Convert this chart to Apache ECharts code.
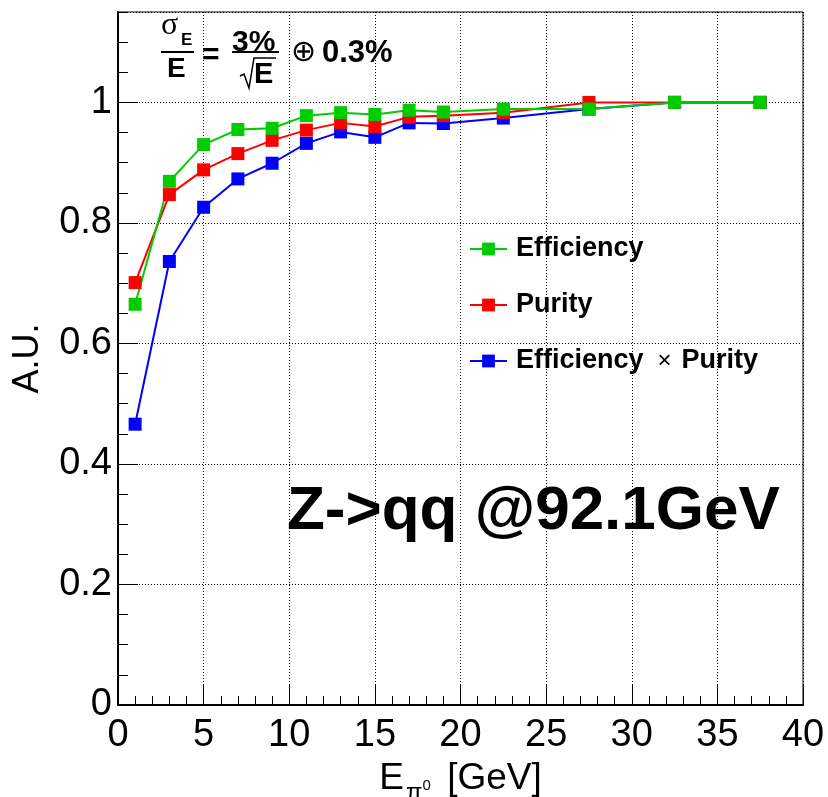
<!DOCTYPE html>
<html>
<head>
<meta charset="utf-8">
<script src="https://cdn.jsdelivr.net/npm/echarts@6/dist/echarts.min.js"></script>
<style>
  html, body { margin: 0; padding: 0; background: #fff; }
  #chart { width: 828px; height: 797px; }
</style>
</head>
<body>
<div id="chart"></div>
<script>
// energy bins (GeV)
var energies = [1, 3, 5, 7, 9, 11, 13, 15, 17, 19, 22.5, 27.5, 32.5, 37.5];
var efficiency = [0.665, 0.869, 0.930, 0.955, 0.957, 0.978, 0.983, 0.980, 0.987, 0.984, 0.989, 0.989, 1.0, 1.0];
var purity = [0.701, 0.847, 0.888, 0.915, 0.937, 0.954, 0.966, 0.960, 0.976, 0.978, 0.983, 1.0, 1.0, 1.0];
var effTimesPur = [0.466, 0.736, 0.826, 0.873, 0.899, 0.932, 0.951, 0.942, 0.966, 0.965, 0.974, 0.989, 1.0, 1.0];
var seriesNames = ['Efficiency', 'Purity', 'Efficiency × Purity'];

var FONT = 'Liberation Sans';

function pairs(ys) {
    return energies.map(function (x, i) { return [x, ys[i]]; });
}

var chart = echarts.init(document.getElementById('chart'));

function lineSeries(name, color, ys) {
    return {
        name: name,
        type: 'line',
        yAxisIndex: 0,
        data: pairs(ys),
        symbol: 'rect',
        symbolSize: 13,
        lineStyle: { color: color, width: 2 },
        itemStyle: { color: color },
        emphasis: { disabled: true },
        animation: false
    };
}

var option = {
    backgroundColor: '#fff',
    grid: {
        left: 118, right: 25, top: 12, bottom: 92,
        outerBoundsMode: 'none',
        containLabel: false,
        show: true, borderColor: '#000', borderWidth: 1
    },
    legend: {
        data: seriesNames,
        orient: 'vertical',
        left: 469,
        top: 234,
        padding: 0,
        itemWidth: 37,
        itemHeight: 16,
        itemGap: 26,
        selectedMode: false,
        textStyle: {
            fontFamily: FONT, fontSize: 27, fontWeight: 'bold', color: '#000',
            lineHeight: 30, padding: [0, 0, 0, 4],
            rich: {
                b: { fontFamily: FONT, fontSize: 27, fontWeight: 'bold', color: '#000' },
                x: { fontFamily: FONT, fontSize: 24, fontWeight: 'normal', color: '#000', padding: [0, 10, 0, 14] }
            }
        },
        formatter: function (name) {
            if (name === 'Efficiency × Purity') {
                return '{b|Efficiency}{x|×}{b|Purity}';
            }
            return name;
        }
    },
    xAxis: {
        type: 'value',
        min: 0, max: 40, interval: 5,
        name: 'E{sub|π}{sup|0} [GeV]',
        nameLocation: 'middle',
        nameGap: 45,
        nameTextStyle: {
            fontFamily: FONT, fontSize: 37, color: '#000',
            rich: {
                sub: { fontFamily: FONT, fontSize: 24, color: '#000', padding: [30, 0, 0, 2] },
                sup: { fontFamily: FONT, fontSize: 15, color: '#000', padding: [14, 6, 0, 0] }
            }
        },
        axisLine: { show: true, onZero: false, lineStyle: { color: '#000', width: 2 } },
        axisTick: { show: true, inside: true, length: 20, lineStyle: { color: '#000', width: 1 } },
        minorTick: { show: true, splitNumber: 5, length: 9, lineStyle: { color: '#000', width: 1 } },
        axisLabel: { fontFamily: FONT, fontSize: 38, color: '#000', margin: 12 },
        splitLine: { show: true, lineStyle: { color: '#000', width: 1, type: [1, 2] } }
    },
    yAxis: [
        {
            type: 'value',
            min: 0, max: 1.15, interval: 0.2,
            name: 'A.U.',
            nameLocation: 'middle',
            nameGap: 72,
            nameTextStyle: { fontFamily: FONT, fontSize: 36, color: '#000' },
            axisLine: { show: true, onZero: false, lineStyle: { color: '#000', width: 2 } },
            axisTick: { show: true, inside: true, length: 20, lineStyle: { color: '#000', width: 1 } },
            axisLabel: { fontFamily: FONT, fontSize: 38, color: '#000', margin: 6, showMaxLabel: false },
            splitLine: { show: true, lineStyle: { color: '#000', width: 1, type: [1, 2] } }
        },
        {
            // minor ticks every 0.05
            type: 'value',
            position: 'left',
            offset: 0,
            min: 0, max: 1.15, interval: 0.05,
            axisLine: { show: false },
            axisTick: { show: true, inside: true, length: 10, lineStyle: { color: '#000', width: 1 } },
            axisLabel: { show: false },
            splitLine: { show: false }
        }
    ],
    series: [
        lineSeries('Efficiency × Purity', '#0000ff', effTimesPur),
        lineSeries('Purity', '#ff0000', purity),
        lineSeries('Efficiency', '#00cc00', efficiency)
    ],
    graphic: [
        // resolution formula: sigma_E / E = 3% / sqrt(E) (+) 0.3%
        { type: 'text', left: 161, top: 10, style: { text: 'σ', font: '32px "Liberation Serif"', fill: '#000' } },
        { type: 'text', left: 181, top: 32, style: { text: 'E', font: 'bold 17px "Liberation Sans"', fill: '#000' } },
        { type: 'line', shape: { x1: 161, y1: 52, x2: 194, y2: 52 }, style: { stroke: '#000', lineWidth: 2 } },
        { type: 'text', left: 167, top: 55, style: { text: 'E', font: 'bold 28px "Liberation Sans"', fill: '#000' } },
        { type: 'text', left: 202, top: 41, style: { text: '=', font: 'bold 30px "Liberation Sans"', fill: '#000' } },
        { type: 'text', left: 232, top: 28, style: { text: '3%', font: 'bold 30px "Liberation Sans"', fill: '#000' } },
        { type: 'line', shape: { x1: 232, y1: 52, x2: 279, y2: 52 }, style: { stroke: '#000', lineWidth: 2 } },
        { type: 'polyline', shape: { points: [[240, 76], [244, 74], [249, 88], [254, 58], [276, 58]] }, style: { stroke: '#000', lineWidth: 1.5, fill: null } },
        { type: 'text', left: 254, top: 60, style: { text: 'E', font: 'bold 29px "Liberation Sans"', fill: '#000' } },
        { type: 'text', left: 291, top: 38, style: { text: '⊕', font: '30px "DejaVu Sans"', fill: '#000' } },
        { type: 'text', left: 322, top: 38, style: { text: '0.3%', font: 'bold 31px "Liberation Sans"', fill: '#000' } },
        // process label
        { type: 'text', left: 287, top: 481, style: { text: 'Z->qq @92.1GeV', font: 'bold 62px "Liberation Sans"', fill: '#000' } }
    ]
};

chart.setOption(option);
</script>
</body>
</html>
